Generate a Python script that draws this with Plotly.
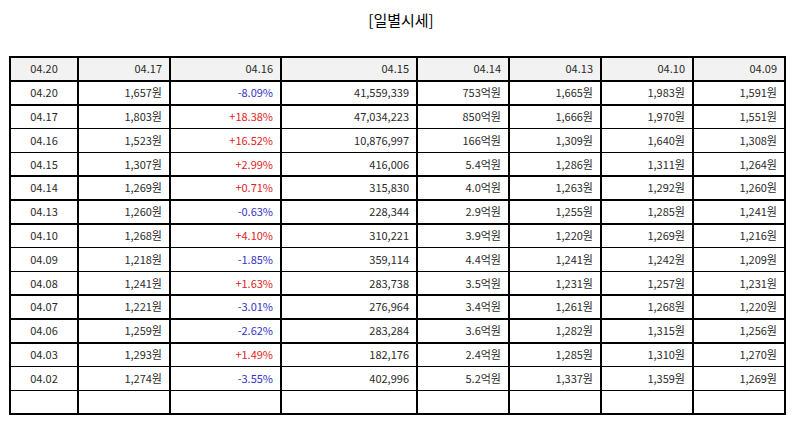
import plotly.graph_objects as go

# 일별시세 데이터
header = ["04.20", "04.17", "04.16", "04.15", "04.14", "04.13", "04.10", "04.09"]

dates = ["04.20", "04.17", "04.16", "04.15", "04.14", "04.13", "04.10", "04.09",
         "04.08", "04.07", "04.06", "04.03", "04.02", ""]
close = ["1,657원", "1,803원", "1,523원", "1,307원", "1,269원", "1,260원", "1,268원",
         "1,218원", "1,241원", "1,221원", "1,259원", "1,293원", "1,274원", ""]
change = ["-8.09%", "+18.38%", "+16.52%", "+2.99%", "+0.71%", "-0.63%", "+4.10%",
          "-1.85%", "+1.63%", "-3.01%", "-2.62%", "+1.49%", "-3.55%", ""]
volume = ["41,559,339", "47,034,223", "10,876,997", "416,006", "315,830", "228,344",
          "310,221", "359,114", "283,738", "276,964", "283,284", "182,176", "402,996", ""]
amount = ["753억원", "850억원", "166억원", "5.4억원", "4.0억원", "2.9억원", "3.9억원",
          "4.4억원", "3.5억원", "3.4억원", "3.6억원", "2.4억원", "5.2억원", ""]
open_ = ["1,665원", "1,666원", "1,309원", "1,286원", "1,263원", "1,255원", "1,220원",
         "1,241원", "1,231원", "1,261원", "1,282원", "1,285원", "1,337원", ""]
high = ["1,983원", "1,970원", "1,640원", "1,311원", "1,292원", "1,285원", "1,269원",
        "1,242원", "1,257원", "1,268원", "1,315원", "1,310원", "1,359원", ""]
low = ["1,591원", "1,551원", "1,308원", "1,264원", "1,260원", "1,241원", "1,216원",
       "1,209원", "1,231원", "1,220원", "1,256원", "1,270원", "1,269원", ""]

col_widths = [68, 92, 111, 136, 92, 92, 92, 92]

RED = "#e02424"
BLUE = "#3333c8"
BLACK = "#2a2a2a"
FONT = "Noto Sans CJK KR"

change_colors = [RED if c.startswith("+") else BLUE if c.startswith("-") else BLACK for c in change]
n = len(dates)
font_colors = [[BLACK] * n, [BLACK] * n, change_colors] + [[BLACK] * n] * 5

fig = go.Figure(go.Table(
    columnwidth=col_widths,
    header=dict(
        values=header,
        fill_color="#f2f2f2",
        line=dict(color="black", width=1.5),
        align=["center"] + ["right"] * 7,
        font=dict(family=FONT, size=11, color=BLACK),
        height=24,
    ),
    cells=dict(
        values=[dates, close, change, volume, amount, open_, high, low],
        fill_color="white",
        line=dict(color="black", width=1.5),
        align=["center"] + ["right"] * 7,
        font=dict(family=FONT, size=11, color=font_colors),
        height=23.8,
    ),
))

# page body keeps an 8px margin, so the figure is sized to fit what is left
fig.update_layout(
    width=786, height=417,
    margin=dict(l=2, r=9, t=49, b=0),
    title=dict(text="[일별시세]", x=0.5, xanchor="center", y=0.97, yanchor="middle",
               font=dict(family=FONT, size=15, color="black")),
    paper_bgcolor="white",
)

fig.write_html("out.html")
